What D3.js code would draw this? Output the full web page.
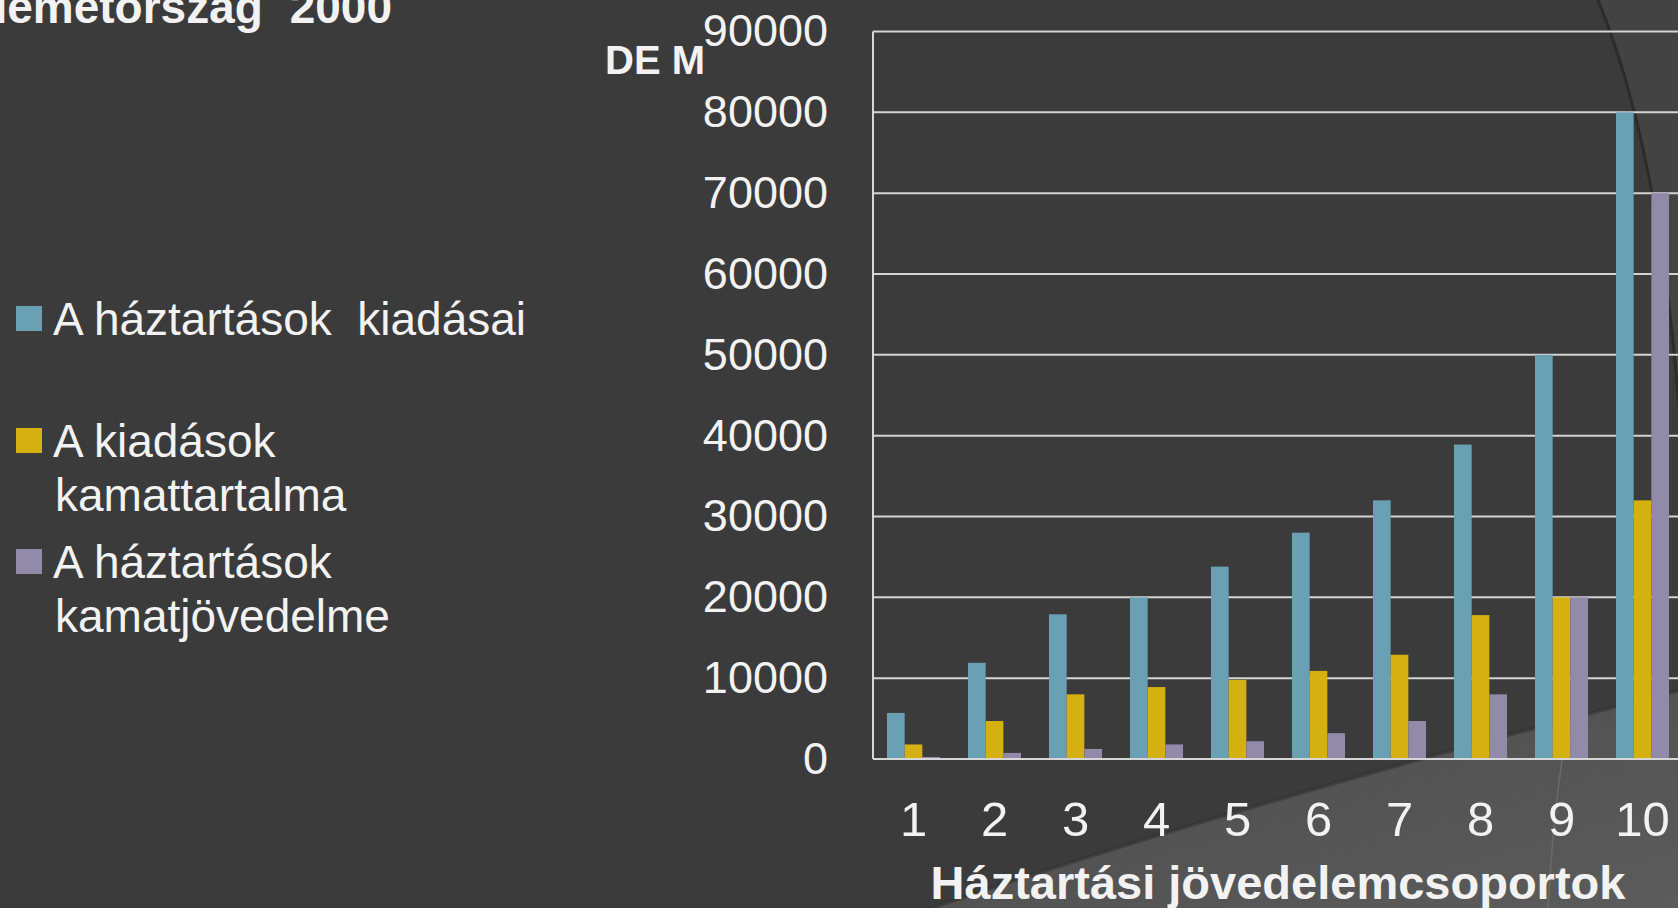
<!DOCTYPE html>
<html>
<head>
<meta charset="utf-8">
<script src="https://cdnjs.cloudflare.com/ajax/libs/d3/7.8.5/d3.min.js"></script>
<style>
  html, body { margin: 0; padding: 0; background: #3b3b3b; overflow: hidden; }
  svg { display: block; }
</style>
</head>
<body>
<div id="chart"></div>
<script>
// income groups (x axis)
var groups = ["1", "2", "3", "4", "5", "6", "7", "8", "9", "10"];

// series names, as in the legend
var series_names = ["A háztartások  kiadásai", "A kiadások kamattartalma", "A háztartások kamatjövedelme"];

// values, DE M
var kiadasai      = [5700, 11900, 17900, 20000, 23800, 28000, 32000, 38900, 50000, 80000];
var kamattartalma = [1800, 4700, 8000, 8900, 9800, 10900, 12900, 17800, 20000, 32000];
var kamatjovedelme = [250, 750, 1250, 1800, 2200, 3200, 4700, 8000, 20000, 70000];

var y_ticks = [0, 10000, 20000, 30000, 40000, 50000, 60000, 70000, 80000, 90000];

var colors = ["#6aa0b3", "#d4b010", "#918aa8"];

var canvas_width = 1678;
var canvas_height = 908;

var plot_left = 873;
var plot_right = 1683;   // runs past the window edge, like the slide
var plot_top = 31.5;
var plot_bottom = 759;

var svg = d3.select("#chart")
    .append("svg")
    .attr("width", canvas_width)
    .attr("height", canvas_height);

// background + the theme's curved shapes
svg.append("rect")
    .attr("x", 0).attr("y", 0)
    .attr("width", canvas_width).attr("height", canvas_height)
    .attr("fill", "#3b3b3b");

var defs = svg.append("defs");
var grad = defs.append("linearGradient")
    .attr("id", "wedge")
    .attr("x1", "0").attr("y1", "0").attr("x2", "1").attr("y2", "1");
grad.append("stop").attr("offset", "0%").attr("stop-color", "#4a4a4a");
grad.append("stop").attr("offset", "100%").attr("stop-color", "#5c5c5c");

// big arc at the upper right
svg.append("path")
    .attr("d", "M1598,0 Q1660,150 1680,420 L1680,0 Z")
    .attr("fill", "#434343");
svg.append("path")
    .attr("d", "M1598,0 Q1660,150 1680,420")
    .attr("fill", "none")
    .attr("stroke", "#2c2c2c")
    .attr("stroke-width", 3);

// lighter wedge at the lower right
svg.append("path")
    .attr("d", "M925,910 Q1250,800 1680,690 L1680,910 Z")
    .attr("fill", "url(#wedge)");
svg.append("path")
    .attr("d", "M925,910 Q1250,800 1680,690")
    .attr("fill", "none")
    .attr("stroke", "#333333")
    .attr("stroke-width", 4)
    .attr("opacity", 0.6);
svg.append("path")
    .attr("d", "M1562,760 Q1552,830 1548,910")
    .attr("fill", "none")
    .attr("stroke", "#6a6a6a")
    .attr("stroke-width", 1.5);

// scales
var x0 = d3.scaleBand()
    .domain(groups)
    .range([plot_left, plot_right])
    .paddingInner(0)
    .paddingOuter(0);

var x1 = d3.scaleBand()
    .domain(d3.range(3))
    .range([0, x0.bandwidth()])
    .paddingInner(0)
    .paddingOuter(0.79);

var y = d3.scaleLinear()
    .domain([0, 90000])
    .range([plot_bottom, plot_top]);

// gridlines
svg.append("g")
    .selectAll("line")
    .data(y_ticks)
    .enter()
    .append("line")
    .attr("x1", plot_left)
    .attr("x2", plot_right)
    .attr("y1", function(d) { return y(d); })
    .attr("y2", function(d) { return y(d); })
    .attr("stroke", "#d4d4d4")
    .attr("stroke-width", 2);

// bars
var all_series = [kiadasai, kamattartalma, kamatjovedelme];
var bar_data = [];
groups.forEach(function(g, i) {
  all_series.forEach(function(s, j) {
    bar_data.push({group: g, s: j, value: s[i]});
  });
});

svg.append("g")
    .selectAll("rect")
    .data(bar_data)
    .enter()
    .append("rect")
    .attr("x", function(d) { return x0(d.group) + x1(d.s); })
    .attr("y", function(d) { return y(d.value); })
    .attr("width", x1.bandwidth())
    .attr("height", function(d) { return y(0) - y(d.value); })
    .attr("fill", function(d) { return colors[d.s]; });

// vertical axis line and bottom line
svg.append("line")
    .attr("x1", plot_left).attr("x2", plot_left)
    .attr("y1", plot_top).attr("y2", plot_bottom)
    .attr("stroke", "#d6d6d6").attr("stroke-width", 2);
svg.append("line")
    .attr("x1", plot_left).attr("x2", plot_right)
    .attr("y1", plot_bottom).attr("y2", plot_bottom)
    .attr("stroke", "#d6d6d6").attr("stroke-width", 2);

// y axis labels
var yAxis = d3.axisLeft(y)
    .tickValues(y_ticks)
    .tickSize(0)
    .tickPadding(45)
    .tickFormat(function(d) { return String(d); });

var yg = svg.append("g")
    .attr("transform", "translate(" + plot_left + ",0)")
    .call(yAxis);
yg.select(".domain").remove();
yg.selectAll("text")
    .attr("fill", "#f2f2f2")
    .attr("font-family", "Liberation Sans, Arial, sans-serif")
    .attr("font-size", "45px");

// x axis labels
var xAxis = d3.axisBottom(x0)
    .tickSize(0)
    .tickPadding(0);

var xg = svg.append("g")
    .attr("transform", "translate(0," + plot_bottom + ")")
    .call(xAxis);
xg.select(".domain").remove();
xg.selectAll("text")
    .attr("y", 77)
    .attr("dy", null)
    .attr("fill", "#f2f2f2")
    .attr("font-family", "Liberation Sans, Arial, sans-serif")
    .attr("font-size", "49px");

// axis titles
svg.append("text")
    .attr("x", (plot_left + plot_right) / 2)
    .attr("y", 899)
    .attr("text-anchor", "middle")
    .text("Háztartási jövedelemcsoportok")
    .attr("fill", "#f2f2f2")
    .attr("font-family", "Liberation Sans, Arial, sans-serif")
    .style("font-weight", "bold")
    .attr("font-size", "47px");

svg.append("text")
    .attr("x", 605)
    .attr("y", 74)
    .text("DE M")
    .attr("fill", "#f2f2f2")
    .attr("font-family", "Liberation Sans, Arial, sans-serif")
    .style("font-weight", "bold")
    .attr("font-size", "40px");

// title, cut by the left and top edges (as on the slide)
svg.append("text")
    .attr("x", -26)
    .attr("y", 23)
    .text("Németország 2000")
    .attr("fill", "#f2f2f2")
    .attr("font-family", "Liberation Sans, Arial, sans-serif")
    .style("font-weight", "bold")
    .style("word-spacing", "14px")
    .attr("font-size", "46px");

// legend
var legend_lines = [
  [series_names[0]],
  ["A kiadások", "kamattartalma"],
  ["A háztartások", "kamatjövedelme"]
];
var legend_y = [335, 457, 578];

var legend = svg.append("g");
legend_lines.forEach(function(lines, i) {
  legend.append("rect")
      .attr("x", 16)
      .attr("y", legend_y[i] - 29)
      .attr("width", 26)
      .attr("height", 25)
      .attr("fill", colors[i]);

  var t = legend.append("text")
      .attr("x", 53)
      .attr("y", legend_y[i])
      .attr("fill", "#f2f2f2")
      .attr("font-family", "Liberation Sans, Arial, sans-serif")
      .attr("font-size", "46px")
      .style("white-space", "pre");

  lines.forEach(function(line, k) {
    t.append("tspan")
        .attr("x", k == 0 ? 53 : 55)
        .attr("dy", k == 0 ? 0 : 54)
        .text(line);
  });
});
</script>
</body>
</html>
